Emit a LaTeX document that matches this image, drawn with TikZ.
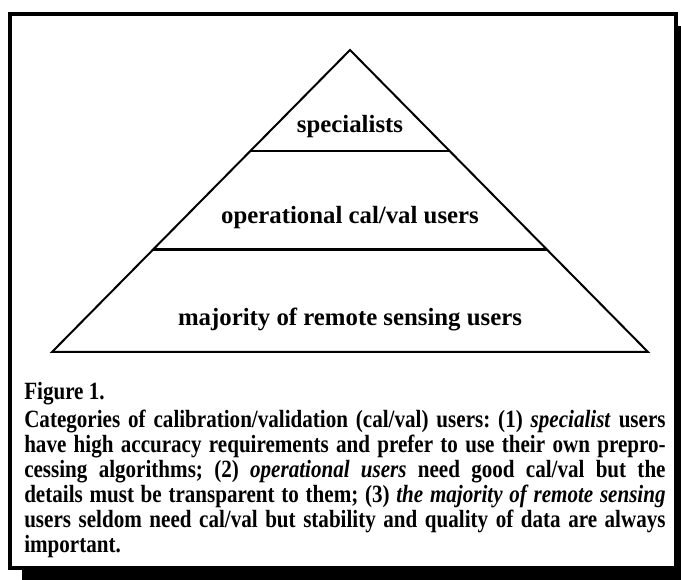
\documentclass[tikz,border=0pt]{standalone}
\usepackage{fontspec}
\setmainfont{Liberation Serif}
\newfontfamily\capfont[FakeStretch=0.85]{Liberation Serif}
\usetikzlibrary{calc, positioning}

\tikzset{
  tier/.style={font=\bfseries\fontsize{18.6}{21}\selectfont, inner sep=0pt},
  tierline/.style={line width=1.8pt},
  caption/.style={font=\capfont\bfseries\fontsize{18.6}{18.8}\selectfont, inner sep=0pt,
    text width=481pt, align=justify, anchor=north west}
}

\begin{document}
\frenchspacing
\begin{tikzpicture}[x=0.75pt, y=-0.75pt]
        % Frame with drop shadow
        \useasboundingbox (0,0) rectangle (681,580);
        \fill[black] (22,26) rectangle (681,580);
        \filldraw[fill=white, line width=2.4pt] (10,14) rectangle (676,568);

        % Pyramid outline
        \coordinate (apex) at (350,50);
        \coordinate (baseL) at (52,352);
        \coordinate (baseR) at (648,352);
        \draw[line width=1.5pt, line join=miter] (apex) -- (baseR) -- (baseL) -- cycle;

        % Tier boundaries
        \coordinate (upL) at ($(apex)!0.335!(baseL)$);
        \coordinate (upR) at ($(apex)!0.335!(baseR)$);
        \coordinate (lowL) at ($(apex)!0.66!(baseL)$);
        \coordinate (lowR) at ($(apex)!0.66!(baseR)$);
        \draw[tierline] (upL) -- (upR);
        \draw[tierline] (lowL) -- (lowR);

        % Tier labels
        \node[tier] (spec) at (350,127) {specialists};
        \node[tier] (oper) at (350,218) {operational cal/val users};
        \node[tier] (major) at (350,320) {majority of remote sensing users};

        % Caption
        \node[caption] (cap) at (24,382) {Figure 1.\\[2pt]
          Categories of calibration/validation (cal/val) users: (1) \textit{specialist} users\linebreak
          have high accuracy requirements and prefer to use their own prepro-\linebreak
          cessing algorithms; (2) \textit{operational users} need good cal/val but the\linebreak
          details must be transparent to them; (3) \textit{the majority of remote sensing}\linebreak
          users seldom need cal/val but stability and quality of data are always\linebreak
          important.};
      \end{tikzpicture}
\end{document}
